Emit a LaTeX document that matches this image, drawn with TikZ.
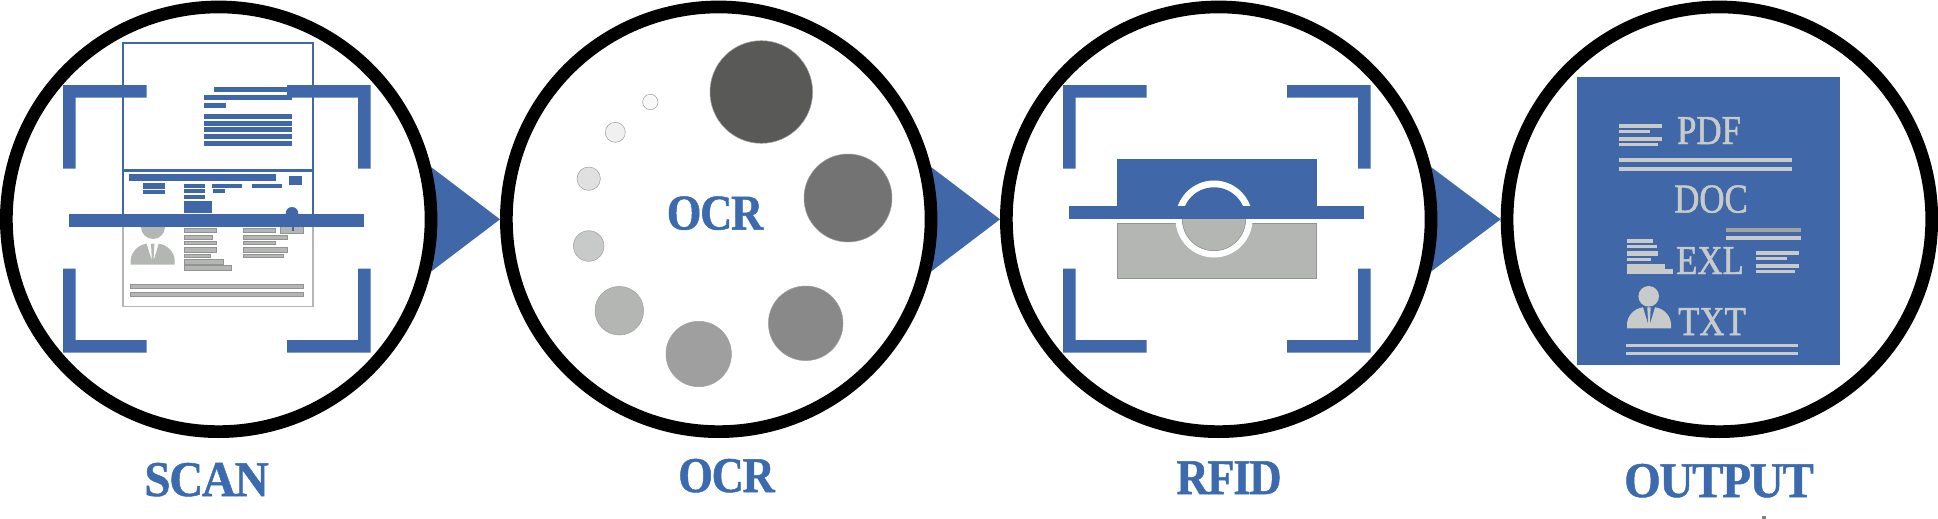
\documentclass[tikz,border=0pt]{standalone}
\usepackage{fontspec}
\usetikzlibrary{backgrounds,calc}
\newfontfamily\labfont[FakeStretch=.94,LetterSpace=-2.5,BoldFeatures={FakeBold=1}]{Liberation Serif}
\newfontfamily\labnarrow[FakeStretch=.89,LetterSpace=-2.5,BoldFeatures={FakeBold=1}]{Liberation Serif}
\newfontfamily\panfont[FakeStretch=.85,FakeBold=1.2]{Liberation Serif}
\definecolor{bl}{HTML}{4068A8}
\definecolor{tb}{HTML}{3B6BAE}
\definecolor{gy}{HTML}{B4B6B4}
\definecolor{lg}{HTML}{C9CBCA}
\tikzset{
  ring/.style={circle,draw=black,fill=white,line width=12.7pt,minimum size=424.7pt,inner sep=0pt,outer sep=0pt},
  lab/.style={anchor=base,inner sep=0pt,text=tb,font=\labfont\bfseries\fontsize{50}{50}\selectfont},
  labn/.style={anchor=base,inner sep=0pt,text=tb,font=\labnarrow\bfseries\fontsize{50}{50}\selectfont},
  pantext/.style={anchor=base,inner sep=0pt,text=lg,font=\panfont\fontsize{41}{41}\selectfont},
  gbar/.style={fill=gy,draw=gray!85,line width=.5pt},
  dot/.style={draw=gray!75,line width=.5pt},
  arrowtri/.style={fill=bl}
}
\newcommand{\personshape}[3]{% cx, top, colour
  \begin{scope}[shift={(#1,#2)}]
  \fill[#3] (-22,21) -- (-22,17) .. controls (-22,9) and (-15,1) .. (-6,0)
    .. controls (-4.5,5) and (-2.5,12) .. (-0.8,17) -- (-1.7,0) -- (1.7,0) -- (0.8,17)
    .. controls (2.5,12) and (4.5,5) .. (6,0)
    .. controls (15,1) and (22,9) .. (22,17) -- (22,21) -- cycle;
  \end{scope}
}
\newcommand{\brackets}[1]{%
  \begin{scope}[xshift=#1pt]
    \fill[bl] (63,168.7) -- (63,85) -- (146.7,85) -- (146.7,97.7) -- (75.7,97.7) -- (75.7,168.7) -- cycle;
    \fill[bl] (370.7,168.7) -- (370.7,85) -- (287,85) -- (287,97.7) -- (358,97.7) -- (358,168.7) -- cycle;
    \fill[bl] (63,268.7) -- (63,352.7) -- (146.7,352.7) -- (146.7,340) -- (75.7,340) -- (75.7,268.7) -- cycle;
    \fill[bl] (370.7,268.7) -- (370.7,352.7) -- (287,352.7) -- (287,340) -- (358,340) -- (358,268.7) -- cycle;
  \end{scope}
}
\begin{document}
\begin{tikzpicture}[x=1pt,y=-1pt]
\useasboundingbox (0,0) rectangle (1938,519);
% circles
\node[ring] (c1) at (218.7,219.3) {};
\node[ring] (c2) at (718.7,219.3) {};
\node[ring] (c3) at (1218.7,219.3) {};
\node[ring] (c4) at (1719.4,219.3) {};
% connectors
\begin{scope}[on background layer]
  \fill[arrowtri] ($(c1.center)+(13.84:218.7)$) -- ($(c2.center)+(-218.7,0)$) -- ($(c1.center)+(-13.84:218.7)$) -- cycle;
  \fill[arrowtri] ($(c2.center)+(13.84:218.7)$) -- ($(c3.center)+(-218.7,0)$) -- ($(c2.center)+(-13.84:218.7)$) -- cycle;
  \fill[arrowtri] ($(c3.center)+(13.84:218.7)$) -- ($(c4.center)+(-218.7,0)$) -- ($(c3.center)+(-13.84:218.7)$) -- cycle;
\end{scope}

% ---------- SCAN: document
\draw[bl,line width=1.8pt] (123,214) -- (123,43) -- (313,43) -- (313,214);
\draw[bl,line width=2.6pt] (123,170.3) -- (313,170.3);
\draw[gy,line width=1.8pt] (123,214) -- (123,306.5) -- (313,306.5) -- (313,214);
\foreach \a/\b/\c/\d in {214/87/287/92.3,203.7/95/292.3/100.3,203.7/103/225.7/108,
  203.7/114/292.3/119,203.7/120.7/292.3/125.7,203.7/127.3/292.3/132.3,203.7/134/292.3/139,203.7/140.7/292.3/145.7,
  128.7/174/276/181,289/176.3/302/184.7,143.3/183/165/189,143.3/190/165/194,
  184/184/205.3/188,184/189/205.3/193,184/195.3/205.3/199,184/201/212/212.7,
  212/184/242/188,213/189/225/193,252.3/184/282/188}
  \fill[bl] (\a,\b) rectangle (\c,\d);
\fill[bl] (292,213.3) circle (6.3);
\fill[gy] (153,227) circle (12);
\personshape{152.7}{243.7}{gy}
\foreach \a/\b/\c/\d in {184/228.3/216/232,184/235/212/239.7,184/241/216/244.7,184/247/216.7/252,
  184/254/210/257.3,184/259.3/223.7/264.3,184/265.3/231.7/270,
  243/228.3/275/232,243/235/287.7/239.7,243/241/275.7/244.7,243/247/287.7/252,243/254/283.7/257.7,
  130.3/284/303.7/288.7,130.3/292/303.7/296.7,280/226.7/303.7/233.7}
  \draw[gbar] (\a,\b) rectangle (\c,\d);
\fill[bl] (291.7,226.7) rectangle (294.3,231);
\brackets{0}
\fill[bl] (69,214) rectangle (364,226.7);

% ---------- OCR: spinner
\node[labn] (ocrmid) at (715,229.5) {OCR};
\foreach \x/\y/\r/\f in {761.3/92/51.3/595958,848/198/44/737373,805.7/323.3/37.3/898989,
  698.7/354/32.7/9E9F9E,619.3/310.7/24.3/B4B6B4,588.7/246/15.3/C8CAC9,
  588.7/178.7/11.7/DFE0DF,615.3/132.3/10/F0F0F0,650.3/102/7.7/F7F8F7}{
  \definecolor{dotc}{HTML}{\f}
  \draw[dot,fill=dotc] (\x,\y) circle (\r);
}

% ---------- RFID
\brackets{1000}
\fill[bl] (1117,159) rectangle (1317,212);
\draw[gbar] (1117,223.3) rectangle (1316.7,278.3);
\fill[white] (1214,219) circle (38.5);
\fill[bl] (1214,219) circle (31.7);
\begin{scope}
  \clip (1170,218.7) rectangle (1258,262);
  \draw[gbar] (1214,219) circle (31.7);
\end{scope}
\fill[bl] (1069,206) rectangle (1364.3,218.7);

% ---------- OUTPUT panel
\fill[bl] (1577,77) rectangle (1840,365);
\foreach \a/\b/\c/\d in {1619/124/1662/128.3,1619/129.7/1650.3/133,1619/136.7/1662/141,1619/142.7/1658/146,
  1619/158/1791.7/162,1619/166.7/1791.7/171,1726/236/1801/240,
  1627/239/1653.3/243,1627/244.7/1657/248,1627/251.3/1658.3/256.3,1627/258/1651.3/261.3,1627/264/1665/269,1627/269.3/1673/274,
  1756/251/1799/255.3,1756/256.7/1787.3/260,1756/263.7/1799/268,1756/269.7/1795/273,
  1626/344/1798.3/347,1626/352/1798.3/355}
  \fill[lg] (\a,\b) rectangle (\c,\d);
\fill[gy!90!black] (1726,228) rectangle (1801,232);
\fill[lg] (1648.7,296.3) circle (10.3);
\personshape{1649}{307.3}{lg}
\node[pantext] (pdf) at (1709,144) {PDF};
\node[pantext] (doc) at (1711,212.5) {DOC};
\node[pantext] (exl) at (1710,274) {EXL};
\node[pantext] (txt) at (1712,335) {TXT};

% ---------- labels
\node[lab] (lscan) at (206.5,496) {SCAN};
\node[labn] (locr) at (726.5,492) {OCR};
\node[labn] (lrfid) at (1229,494) {RFID};
\node[lab] (lout) at (1719,497) {OUTPUT};
\fill[gray] (1762,515.5) rectangle (1766,519);
\end{tikzpicture}
\end{document}
